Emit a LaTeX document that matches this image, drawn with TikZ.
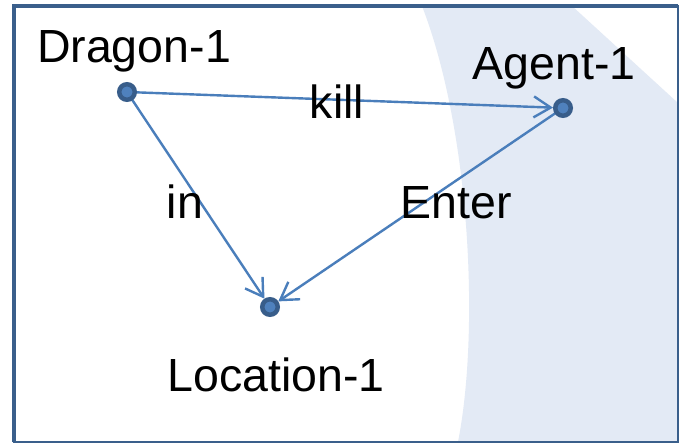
\documentclass[tikz,border=0pt]{standalone}
\usepackage{fontspec}
\setmainfont{Liberation Sans}
\usetikzlibrary{arrows.meta}
\definecolor{frameblue}{HTML}{3A5F8B}
\definecolor{linkblue}{HTML}{4A7EBB}
\definecolor{dotouter}{HTML}{385D8A}
\definecolor{dotinner}{HTML}{4F81BD}
\definecolor{bandblue}{HTML}{E3EAF5}
\pgfdeclarelayer{bg}
\pgfdeclarelayer{edges}
\pgfsetlayers{bg,edges,main}
\begin{document}
\begin{tikzpicture}[x=1pt,y=-1pt,
  entity/.style={circle, fill=dotinner, draw=dotouter, line width=4.5pt,
    minimum size=15.5pt, inner sep=0pt},
  lbl/.style={font=\fontsize{46.5}{52}\selectfont, anchor=base, inner sep=0pt},
  rel/.style={draw=linkblue, line width=2.4pt,
    -{Straight Barb[length=17pt,width=21pt,line width=2.4pt]}}]
\useasboundingbox (0,0) rectangle (680,444);

% entities
\node[entity] (dragon)   at (127,92)  {};
\node[entity] (agent)    at (563,108) {};
\node[entity] (location) at (270,307) {};

% names and relation words
\node[lbl] (dragonlbl)   at (134,63)  {Dragon-1};
\node[lbl] (agentlbl)    at (554,79)  {Agent-1};
\node[lbl] (locationlbl) at (276,391) {Location-1};
\node[lbl] (killlbl)     at (337,118) {kill};
\node[lbl] (inlbl)       at (185,218) {in};
\node[lbl] (enterlbl)    at (456,218) {Enter};

% relations
\begin{pgfonlayer}{edges}
  \draw[rel] (dragon.center) -- (agent);
  \draw[rel] (dragon.center) -- (location);
  \draw[rel] (agent.center) -- (location);
\end{pgfonlayer}

% backdrop: white panel, pale band on the right, frame
\begin{pgfonlayer}{bg}
  \fill[white] (0,0) rectangle (680,444);
  \fill[bandblue] (422,6) .. controls (470,130) and (480,330) .. (458,442)
    -- (678,442) -- (678,103) -- (572,6) -- cycle;
  \draw[frameblue, line width=1.5pt] (14,6) rectangle (678,442);
  \draw[frameblue, line width=4pt] (14,442) -- (14,6) -- (678,6);
\end{pgfonlayer}
\end{tikzpicture}
\end{document}
